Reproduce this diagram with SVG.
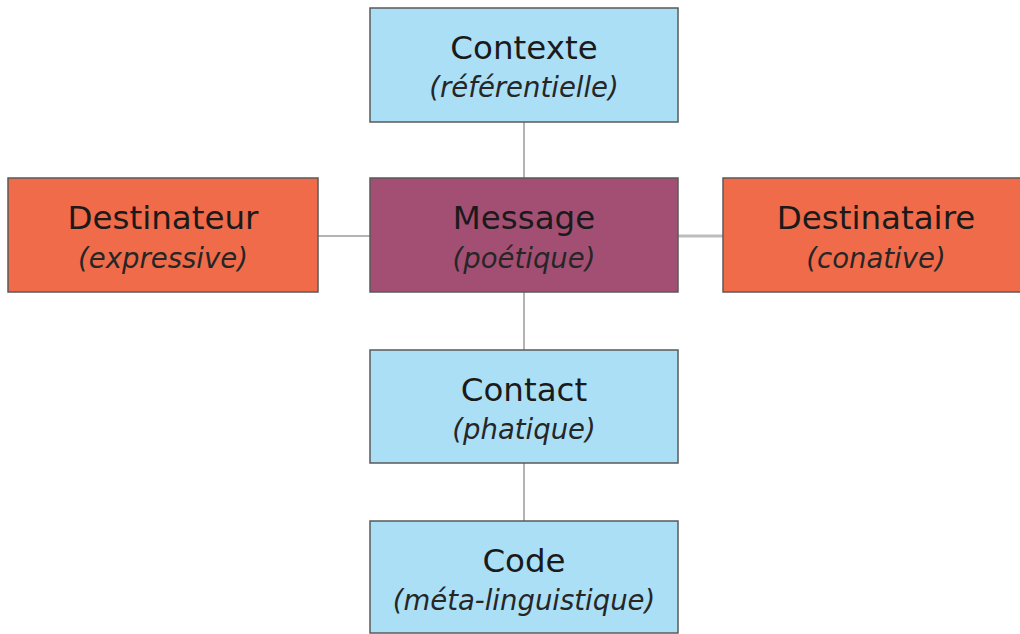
<svg xmlns="http://www.w3.org/2000/svg" width="1020" height="634" viewBox="0 0 1020 634">
<style>
.box{stroke:#5a5a5a;stroke-width:1.5}
.blue{fill:#abdff6}
.purple{fill:#a34f74}
.orange{fill:#f06b49}
.t{font-family:"DejaVu Sans",Verdana,sans-serif;font-size:32.5px;fill:#1a1a1a;text-anchor:middle}
.s{font-family:"DejaVu Sans",Verdana,sans-serif;font-size:27.5px;font-style:italic;fill:#262626;text-anchor:middle}
.c{stroke:#9a9a9a;stroke-width:1.5;fill:none}
</style>
<rect width="1020" height="634" fill="#ffffff"/>
<g id="connectors">
<line class="c" x1="524" y1="122" x2="524" y2="178"/>
<line class="c" x1="318" y1="236" x2="370" y2="236"/>
<line class="c" x1="678" y1="236" x2="723" y2="236" style="stroke:#bdbdbd;stroke-width:3"/>
<line class="c" x1="524" y1="292" x2="524" y2="350"/>
<line class="c" x1="524" y1="463" x2="524" y2="521"/>
</g>
<g id="contexte">
<rect class="box blue" x="370" y="8" width="308" height="114"/>
<text class="t" x="524" y="59">Contexte</text>
<text class="s" x="524" y="97">(référentielle)</text>
</g>
<g id="destinateur">
<rect class="box orange" x="8" y="178" width="310" height="114"/>
<text class="t" x="163" y="229">Destinateur</text>
<text class="s" x="163" y="268">(expressive)</text>
</g>
<g id="message">
<rect class="box purple" x="370" y="178" width="308" height="114"/>
<text class="t" x="524" y="229">Message</text>
<text class="s" x="524" y="268">(poétique)</text>
</g>
<g id="destinataire">
<rect class="box orange" x="723" y="178" width="310" height="114"/>
<text class="t" x="876" y="229">Destinataire</text>
<text class="s" x="876" y="268">(conative)</text>
</g>
<g id="contact">
<rect class="box blue" x="370" y="350" width="308" height="113"/>
<text class="t" x="524" y="401">Contact</text>
<text class="s" x="524" y="439">(phatique)</text>
</g>
<g id="code">
<rect class="box blue" x="370" y="521" width="308" height="112"/>
<text class="t" x="524" y="572">Code</text>
<text class="s" x="524" y="610">(méta-linguistique)</text>
</g>
</svg>
